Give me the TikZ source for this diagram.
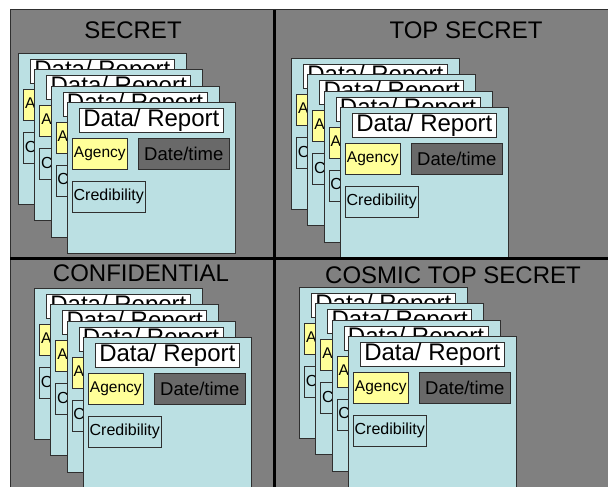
\documentclass[tikz,border=0pt]{standalone}
\usepackage{fontspec}
\setmainfont{Liberation Sans}
\usetikzlibrary{positioning, calc}
\definecolor{panelgray}{HTML}{808080}
\definecolor{cardcyan}{HTML}{BBE0E3}
\definecolor{agencyyel}{HTML}{FFFF99}
\definecolor{stampgray}{HTML}{696969}
\definecolor{edgegray}{HTML}{2F2F2F}

\tikzset{
  card/.style={draw=edgegray, fill=cardcyan, line width=0.8pt, inner sep=0pt,
    minimum width=168pt, minimum height=151pt, anchor=north west},
  field/.style={draw=edgegray, line width=0.8pt, inner sep=0pt, text=black},
  titlebox/.style={field, fill=white, minimum width=144pt, minimum height=24pt,
    font=\fontsize{24}{24}\selectfont},
  agencybox/.style={field, fill=agencyyel, minimum width=55pt, minimum height=31pt,
    font=\fontsize{15.5}{16}\selectfont},
  datebox/.style={field, fill=stampgray, minimum width=91pt, minimum height=31pt,
    font=\fontsize{18.5}{19}\selectfont},
  credbox/.style={field, fill=cardcyan, minimum width=73pt, minimum height=31pt,
    font=\fontsize{16}{17}\selectfont},
  levelname/.style={font=\fontsize{24}{24}\selectfont, inner sep=0pt}
}

% one stack of four report cards, #1 = prefix, (#2,#3) = top left of the back card
\newcommand{\reportstack}[3]{%
  \foreach \k in {1,...,4} {
    \node[card] (#1card\k) at ({#2+16.3*(\k-1)},{#3+16.3*(\k-1)}) {};
    \node[titlebox, below right=6pt and 12pt of #1card\k.north west] (#1title\k) {Data/ Report};
    \node[agencybox, below right=36pt and 5pt of #1card\k.north west] (#1agency\k) {Agency};
    \node[datebox, below right=36pt and 71pt of #1card\k.north west] (#1date\k) {Date/time};
    \node[credbox, below right=79pt and 5pt of #1card\k.north west] (#1cred\k) {Credibility};
  }%
}

\begin{document}
\begin{tikzpicture}[x=1pt, y=-1pt]
  \useasboundingbox (0,0) rectangle (608,487);
  \clip (0,0) rectangle (608,487);

  % gray panel behind everything
  \filldraw[fill=panelgray, draw=edgegray, line width=1pt] (10,10) rectangle (620,500);

  % SECRET
  \node[levelname] (secret) at (133,30) {SECRET};
  \reportstack{s}{18}{53}

  % TOP SECRET
  \node[levelname] (topsecret) at (466,30) {TOP SECRET};
  \reportstack{ts}{291}{58}

  % CONFIDENTIAL
  \node[levelname] (confidential) at (141,273) {CONFIDENTIAL};
  \reportstack{c}{34}{288}

  % COSMIC TOP SECRET
  \node[levelname] (cosmic) at (453,275) {COSMIC TOP SECRET};
  \reportstack{cts}{299}{287}

  % quadrant dividers
  \draw[line width=3pt] (274.5,10) -- (274.5,487);
  \draw[line width=3pt] (10,258.5) -- (608,258.5);
\end{tikzpicture}
\end{document}
